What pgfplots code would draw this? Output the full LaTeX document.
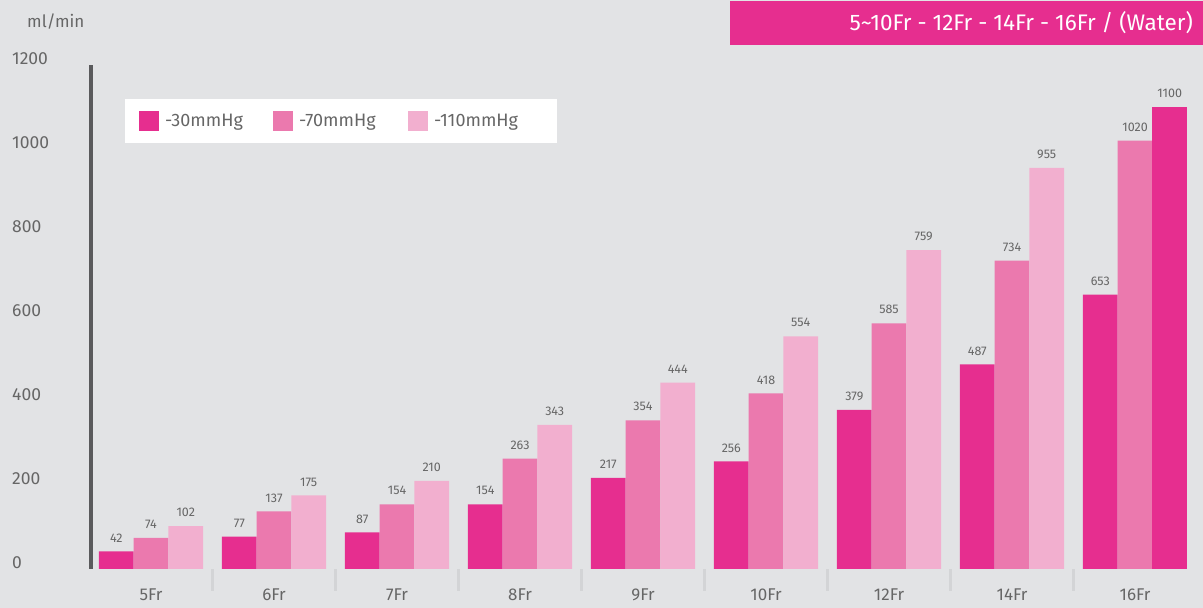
\documentclass[border=0pt]{standalone}
\usepackage{fontspec}
\setmainfont{Fira Sans}
\usepackage{pgfplots}
\pgfplotsset{compat=1.18}
\definecolor{bg}{HTML}{E2E3E5}
\definecolor{cA}{HTML}{E62E8F}
\definecolor{cB}{HTML}{EB79AE}
\definecolor{cC}{HTML}{F2AFCF}
\definecolor{axgray}{HTML}{5A5A5C}
\definecolor{txtgray}{HTML}{666666}
\definecolor{sepgray}{HTML}{D3D4D6}
\begin{document}
\begin{tikzpicture}
\fill[bg] (0,0) rectangle (1203pt,608pt);
\useasboundingbox (0,0) rectangle (1203pt,608pt);
\begin{axis}[
  at={(91pt,39pt)}, anchor=south west,
  scale only axis, width=1105.5pt, height=504pt,
  xmin=-0.488, xmax=8.5, ymin=0, ymax=1200,
  ybar, bar width=34.7pt,
  axis x line*=bottom, axis y line*=left,
  x axis line style={draw=none},
  y axis line style={draw=axgray, line width=3.5pt},
  major tick length=0pt,
  xtick={0,...,8},
  xticklabels={5Fr,6Fr,7Fr,8Fr,9Fr,10Fr,12Fr,14Fr,16Fr},
  xticklabel style={font=\fontsize{17}{20}\selectfont, text=txtgray, inner sep=0pt, yshift=-20pt},
  ytick={0,200,...,1200},
  yticklabels={0,200,400,600,800,1000,1200},
  yticklabel style={font=\fontsize{17.5}{20}\selectfont, text=txtgray, anchor=west, inner sep=0pt, xshift=-79pt, yshift=6.5pt},
  extra x ticks={0.5,1.5,...,7.5},
  extra x tick labels={},
  extra x tick style={major tick length=22pt, tick align=outside, tick style={draw=sepgray, line width=3pt}},
  /pgf/number format/.cd, 1000 sep={}, assume math mode=true, /pgfplots/.cd,
  nodes near coords,
  every node near coord/.append style={font=\fontsize{12.5}{14}\selectfont, text=txtgray, inner sep=0pt, yshift=9pt},
  legend columns=3,
  legend style={at={(0.03076,0.9325)}, anchor=north west, draw=none, fill=white,
    inner xsep=14pt, inner ysep=12pt, nodes={inner sep=0pt},
    font=\fontsize{18}{20}\selectfont, text=txtgray,
    /tikz/every odd column/.append style={column sep=6pt},
    /tikz/every even column/.append style={column sep=0pt}},
  legend image code/.code={\fill[#1] (0pt,-10pt) rectangle (20pt,10pt);},
]
\addplot[fill=cA, draw=none, bar shift=-34.7pt] coordinates {(0,42) (1,77) (2,87) (3,154) (4,217) (5,256) (6,379) (7,487) (8,653)};
\addlegendentry{\makebox[108pt][l]{-30mmHg}}
\addplot[fill=cB, draw=none, bar shift=0pt] coordinates {(0,74) (1,137) (2,154) (3,263) (4,354) (5,418) (6,585) (7,734) (8,1020)};
\addlegendentry{\makebox[109pt][l]{-70mmHg}}
\addplot[fill=cC, draw=none, bar shift=34.7pt] coordinates {(0,102) (1,175) (2,210) (3,343) (4,444) (5,554) (6,759) (7,955)};
\addlegendentry{\makebox[109pt][l]{-110mmHg}}
\addplot[fill=cA, draw=none, bar shift=34.7pt, forget plot] coordinates {(8,1100)};
\end{axis}
\fill[cA] (730pt,563pt) rectangle (1203pt,607pt);
\node[anchor=east, inner sep=0pt, text=white, font=\fontsize{22.5}{25}\selectfont] at (1193pt,585pt) {5\textasciitilde10Fr - 12Fr - 14Fr - 16Fr / (Water)};
\node[anchor=west, inner sep=0pt, text=txtgray, font=\fontsize{17}{20}\selectfont] at (27pt,586pt) {ml/min};
\end{tikzpicture}
\end{document}
